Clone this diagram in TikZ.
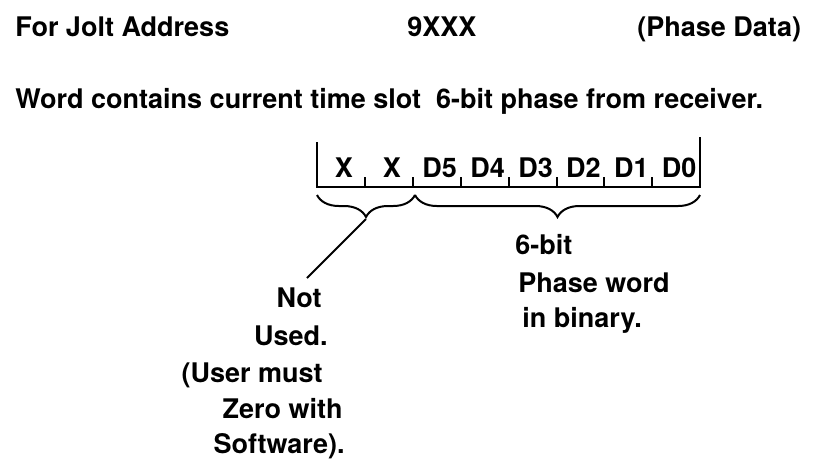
\documentclass[tikz,border=0pt]{standalone}
\usepackage{fontspec}
\setmainfont{TeX Gyre Heros}
\usetikzlibrary{decorations.pathreplacing}
\tikzset{
  txt/.style={inner sep=0pt, font=\fontsize{13.5}{16}\selectfont\bfseries},
  wordline/.style={line width=1pt},
  bracedown/.style={line width=1pt, decorate, decoration={brace, mirror, amplitude=11pt}}
}
\begin{document}
\begin{tikzpicture}[x=0.5pt, y=-0.5pt]
  \useasboundingbox (0,0) rectangle (817,463);

  \node[txt, anchor=base west] (addr) at (15,36) {For Jolt Address};
  \node[txt, anchor=base west] (code) at (407,36) {9XXX};
  \node[txt, anchor=base west] (kind) at (637,36) {(Phase Data)};
  \node[txt, anchor=base west] (desc) at (15,108) {Word contains current time slot\ \ 6-bit phase from receiver.};

  \coordinate (wl) at (317,187);
  \coordinate (wr) at (700,187);
  \draw[wordline] (317,142) -- (wl) -- (wr) -- (700,137);
  \foreach \i in {1,...,7}
    \draw[wordline] (317+47.9*\i,187) -- (317+47.9*\i,177);
  \foreach \lab [count=\i] in {X,X,D5,D4,D3,D2,D1,D0}
    \node[txt, anchor=base] (bit\i) at (320+47.9*\i-24,177) {\lab};

  \coordinate (ua) at (317,195);
  \coordinate (ub) at (415,195);
  \coordinate (uc) at (700,195);
  \draw[bracedown] (ua) -- (ub);
  \draw[bracedown] (ub) -- (uc);

  \coordinate (tipa) at (366,219);
  \coordinate (lineend) at (307,278);
  \draw[wordline] (tipa) -- (lineend);

  \node[txt, anchor=base east] (nu1) at (322,307) {Not};
  \node[txt, anchor=base east] (nu2) at (328,345) {Used.};
  \node[txt, anchor=base east] (nu3) at (323,382) {(User must};
  \node[txt, anchor=base east] (nu4) at (343,418) {Zero with};
  \node[txt, anchor=base east] (nu5) at (345,453) {Software).};

  \node[txt, anchor=base west] (pw1) at (515,254) {6-bit};
  \node[txt, anchor=base west] (pw2) at (518,292) {Phase word};
  \node[txt, anchor=base west] (pw3) at (522,327) {in binary.};
\end{tikzpicture}
\end{document}
